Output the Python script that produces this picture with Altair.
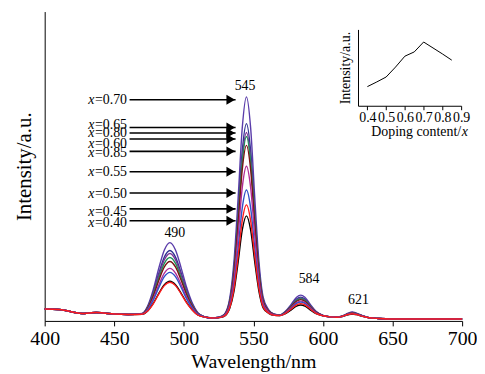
import altair as alt
import pandas as pd

# ---------------- data ----------------
series_names = ["0.40", "0.70", "0.65", "0.80", "0.60", "0.85", "0.55", "0.50", "0.45"]
series_colors = ["#000000", "#5a3caa", "#2e3192", "#7b3294", "#1f8f5a", "#7a1212", "#b02c96", "#3050c8", "#ff1a1a"]

wl_left = [400, 410, 415, 420, 427, 432, 437, 442, 450, 460]
base_left = [12, 11.5, 10.5, 9, 7.5, 8, 8.5, 8, 7, 6.5]

wl_right = [470, 474, 478, 482, 486, 490, 494, 498, 502, 506, 510, 515, 520, 525, 529,
            533, 536, 539, 542, 545, 548, 551, 554, 557, 561, 565, 569, 573, 577, 581,
            584, 587, 591, 595, 600, 605, 610, 614, 618, 621, 624, 628, 633, 640, 650,
            660, 680, 700]

s040 = [6.7, 10.1, 17.6, 27.8, 36.5, 40, 36.5, 28.1, 18.7, 11.3, 6.1, 3.9, 3, 3.3, 4.7, 12.7, 29.5, 59.1, 91.7, 106, 91.7, 59.1, 29.5, 13.2, 7.6, 5.6, 5.3, 7.3, 10.9, 14.9, 16, 14.9, 10.9, 7.3, 5.1, 4.1, 3.7, 4.5, 6.2, 7, 6.3, 4.8, 3.2, 2.5, 2, 2, 2, 2]
s045 = [6.7, 9.9, 17.2, 27.1, 35.6, 39, 35.6, 27.4, 18.3, 11.1, 6.0, 3.8, 3, 3.3, 4.9, 13.6, 32.3, 65, 101.2, 117, 101.2, 65, 32.3, 14.2, 7.9, 5.7, 5.4, 7.6, 11.8, 16.2, 17.5, 16.2, 11.8, 7.6, 5.2, 4.1, 3.7, 4.6, 6.5, 7.3, 6.5, 4.9, 3.2, 2.5, 2, 2, 2, 2]
s050 = [6.9, 11.2, 20.8, 33.6, 44.6, 49, 44.6, 34, 22.2, 12.9, 6.6, 3.9, 3, 3.4, 5.1, 14.9, 36, 73.1, 114.1, 132, 114.1, 73.1, 36, 15.5, 8.3, 5.9, 5.5, 8.0, 12.6, 17.6, 19, 17.6, 12.6, 8.0, 5.2, 4.1, 3.7, 4.6, 6.7, 7.6, 6.8, 5.1, 3.2, 2.5, 2, 2, 2, 2]
s055 = [7, 11.7, 22.3, 36.2, 48.2, 53, 48.2, 36.7, 23.7, 13.6, 6.9, 4.0, 3, 3.5, 5.5, 16.9, 42, 86.1, 134.7, 156, 134.7, 86.1, 42, 17.7, 9.1, 6.2, 5.6, 8.2, 13.2, 18.5, 20, 18.5, 13.2, 8.2, 5.3, 4.2, 3.7, 4.7, 6.9, 7.8, 6.9, 5.1, 3.3, 2.5, 2, 2, 2, 2]
s060 = [7.2, 13.2, 26.2, 43.4, 58.1, 64, 58.1, 43.9, 28, 15.6, 7.5, 4.1, 3, 3.5, 5.9, 19.5, 49.5, 102.3, 160.5, 186, 160.5, 102.3, 49.5, 20.4, 10, 6.5, 5.8, 8.8, 14.6, 20.7, 22.5, 20.7, 14.6, 8.8, 5.4, 4.2, 3.7, 4.8, 7.2, 8.2, 7.3, 5.3, 3.3, 2.5, 2, 2, 2, 2]
s065 = [7.3, 14.1, 28.8, 47.9, 64.4, 71, 64.4, 48.6, 30.7, 16.9, 8, 4.2, 3, 3.6, 6.1, 20.6, 52.8, 109.3, 171.7, 199, 171.7, 109.3, 52.8, 21.6, 10.4, 6.7, 5.9, 9.2, 15.4, 22.1, 24, 22.1, 15.4, 9.2, 5.5, 4.2, 3.8, 4.9, 7.4, 8.5, 7.5, 5.4, 3.3, 2.5, 2, 2, 2, 2]
s070 = [7.5, 15.1, 31.6, 53.1, 71.6, 79, 71.6, 53.8, 33.9, 18.3, 8.4, 4.2, 3, 3.7, 6.5, 22.9, 59.5, 123.9, 194.9, 226, 194.9, 123.9, 59.5, 24, 11.2, 6.9, 6, 9.7, 16.5, 23.9, 26, 23.9, 16.5, 9.7, 5.6, 4.2, 3.8, 5, 7.8, 9, 7.9, 5.6, 3.3, 2.5, 2, 2, 2, 2]
s080 = [7.3, 13.7, 27.7, 46, 61.7, 68, 61.7, 46.6, 29.6, 16.3, 7.8, 4.1, 3, 3.6, 6, 19.8, 50.5, 104.4, 164, 190, 164, 104.4, 50.5, 20.7, 10.1, 6.6, 5.8, 8.9, 14.9, 21.2, 23, 21.2, 14.9, 8.9, 5.4, 4.2, 3.7, 4.8, 7.2, 8.3, 7.3, 5.3, 3.3, 2.5, 2, 2, 2, 2]
s085 = [7.1, 12.7, 24.8, 40.8, 54.5, 60, 54.5, 41.3, 26.5, 14.9, 7.3, 4.05, 3, 3.5, 5.8, 18.7, 47.3, 97.4, 152.8, 177, 152.8, 97.4, 47.3, 19.6, 9.7, 6.4, 5.7, 8.6, 14, 19.8, 21.5, 19.8, 14, 8.6, 5.4, 4.2, 3.7, 4.8, 7, 8, 7.1, 5.2, 3.3, 2.5, 2, 2, 2, 2]

series_values = {"0.40": s040, "0.45": s045, "0.50": s050, "0.55": s055, "0.60": s060,
                 "0.65": s065, "0.70": s070, "0.80": s080, "0.85": s085}

# labels with arrows
label_names = ["0.70", "0.65", "0.80", "0.60", "0.85", "0.55", "0.50", "0.45", "0.40"]
label_y = [222.7, 198, 189, 178, 169, 150, 128, 110, 99]
arrow_y = [223, 195, 189.5, 183.5, 171, 150.5, 129, 113, 101]
label_wl = 436.1
arrow_tail = 461
arrow_head = 537.2

# peak annotations
peak_text = ["545", "490", "584", "621"]
peak_wl = [544, 493.5, 590, 625.5]
peak_int = [237, 89, 42, 21]

# inset
inset_x = [0.40, 0.45, 0.50, 0.55, 0.60, 0.65, 0.70, 0.80, 0.85]
inset_y = [19.3, 24, 29, 39, 50, 54.3, 64.3, 52.3, 46]
inset_title_pos = 0.9
inset_title_y = -26

# ---------------- build tables ----------------
rows = []
for s in series_names:
    for w, v in zip(wl_left, base_left):
        rows.append({"series": s, "wl": w, "I": v})
    for w, v in zip(wl_right, series_values[s]):
        rows.append({"series": s, "wl": w, "I": v})
spec = pd.DataFrame(rows)

lab = pd.DataFrame({"name": label_names, "ly": label_y, "ay": arrow_y})
lab["eq"] = "=" + lab["name"]
lab["xs"] = "x"
lab["lx"] = label_wl
lab["tail"] = arrow_tail
lab["head"] = arrow_head
lab["tip"] = arrow_head - 3.5

peaks = pd.DataFrame({"t": peak_text, "wl": peak_wl, "I": peak_int})
inset = pd.DataFrame({"dop": inset_x, "val": inset_y})
inset_title = pd.DataFrame({"dop": [inset_title_pos], "val": [inset_title_y],
                            "a": ["Doping content/"], "b": ["x"]})

FONT = "Liberation Serif"

def xs():
    return alt.Scale(domain=[400, 700], nice=False, zero=False)

def ys():
    return alt.Scale(domain=[0, 312], nice=False)

def ixs():
    return alt.Scale(domain=[0.35, 0.9], range=[316, 420], nice=False, zero=False)

def iys():
    return alt.Scale(domain=[0, 77], range=[95, 18], nice=False)

lines = alt.Chart(spec).mark_line(interpolate="monotone", strokeWidth=1.4).encode(
    x=alt.X("wl:Q", scale=xs(), axis=alt.Axis(
        orient="bottom", title="Wavelength/nm", values=[400, 450, 500, 550, 600, 650, 700],
        grid=False, tickSize=5, tickColor="black", domainColor="black",
        labelFont=FONT, labelFontSize=20, labelColor="black", labelPadding=3,
        titleFont=FONT, titleFontSize=20, titleFontWeight="normal", titleColor="black",
        titlePadding=3, labelFlush=False)),
    y=alt.Y("I:Q", scale=ys(), axis=alt.Axis(
        orient="left", title="Intensity/a.u.", ticks=False, labels=False, grid=False, domainColor="black",
        titleFont=FONT, titleFontSize=21, titleFontWeight="normal", titleColor="black",
        titlePadding=10)),
    color=alt.Color("series:N", scale=alt.Scale(domain=series_names, range=series_colors), legend=None),
    detail="series:N",
)

peak_labels = alt.Chart(peaks).mark_text(font=FONT, fontSize=14, baseline="middle", align="center", color="black").encode(
    x=alt.X("wl:Q", scale=xs(), axis=None), y=alt.Y("I:Q", scale=ys(), axis=None), text="t:N")

x_italic = alt.Chart(lab).mark_text(font=FONT, fontSize=14, fontStyle="italic", align="right", baseline="middle", color="black", dx=-0.5).encode(
    x=alt.X("lx:Q", scale=xs(), axis=None), y=alt.Y("ly:Q", scale=ys(), axis=None), text="xs:N")

eq_text = alt.Chart(lab).mark_text(font=FONT, fontSize=14, align="left", baseline="middle", color="black").encode(
    x=alt.X("lx:Q", scale=xs(), axis=None), y=alt.Y("ly:Q", scale=ys(), axis=None), text="eq:N")

arrows = alt.Chart(lab).mark_rule(color="black", strokeWidth=1.6).encode(
    x=alt.X("tail:Q", scale=xs(), axis=None), x2="head:Q", y=alt.Y("ay:Q", scale=ys(), axis=None))

heads = alt.Chart(lab).mark_point(shape="triangle-right", filled=True, color="black", opacity=1, size=100).encode(
    x=alt.X("tip:Q", scale=xs(), axis=None), y=alt.Y("ay:Q", scale=ys(), axis=None))

inset_line = alt.Chart(inset).mark_line(color="black", strokeWidth=1).encode(
    x=alt.X("dop:Q", scale=ixs(),
            axis=alt.Axis(orient="bottom", offset=-217, values=[0.4, 0.5, 0.6, 0.7, 0.8, 0.9],
                          format=".1f", grid=False, tickSize=4, tickColor="black", domainColor="black",
                          labelFont=FONT, labelFontSize=14, labelColor="black", labelPadding=1,
                          labelOverlap=False, labelFlush=False, labelBound=False, title=None)),
    y=alt.Y("val:Q", scale=iys(),
            axis=alt.Axis(orient="left", offset=-316, ticks=False, labels=False, grid=False,
                          domainColor="black", title="Intensity/a.u.", titleFont=FONT,
                          titleFontSize=14, titleFontWeight="normal", titleColor="black",
                          titlePadding=6)),
)

inset_title_a = alt.Chart(inset_title).mark_text(font=FONT, fontSize=14, align="right", baseline="middle", color="black").encode(
    x=alt.X("dop:Q", scale=ixs(), axis=None), y=alt.Y("val:Q", scale=iys(), axis=None), text="a:N")

inset_title_b = alt.Chart(inset_title).mark_text(font=FONT, fontSize=14, fontStyle="italic", align="left", baseline="middle", color="black", dx=0.5).encode(
    x=alt.X("dop:Q", scale=ixs(), axis=None), y=alt.Y("val:Q", scale=iys(), axis=None), text="b:N")

chart = alt.layer(lines, arrows, heads, x_italic, eq_text, peak_labels, inset_line,
                  inset_title_a, inset_title_b).resolve_scale(
    x="independent", y="independent").resolve_axis(
    x="independent", y="independent").properties(
    width=421, height=312,
    autosize=alt.AutoSizeParams(type="none"),
    padding={"left": 37, "top": 2, "right": 15, "bottom": 60},
    background="white",
).configure_view(stroke=None)

chart.save("out.html", embed_options={"renderer": "svg", "actions": False})
